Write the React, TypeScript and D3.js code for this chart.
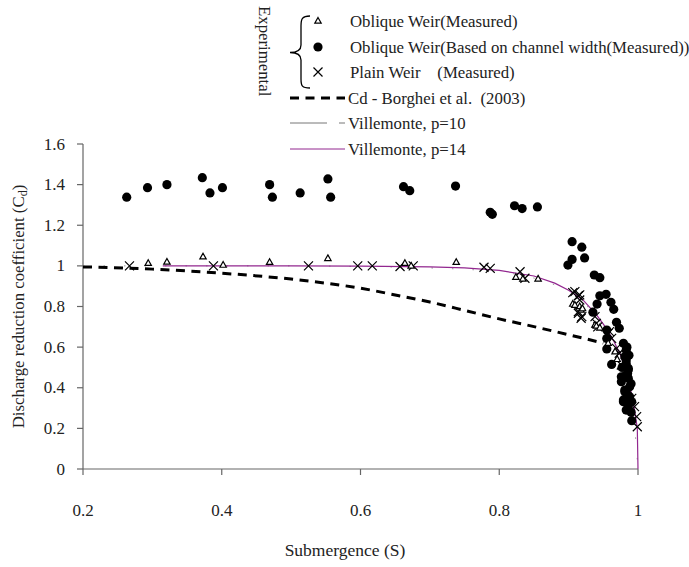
import React from "react";
import * as d3 from "d3";

// Oblique weir, measured (triangles)
const obliqueMeasured: [number, number][] = [
  [0.294, 1.013], [0.321, 1.019], [0.373, 1.045], [0.402, 1.004], [0.469, 1.018],
  [0.553, 1.037], [0.664, 1.013], [0.673, 1.0], [0.738, 1.018], [0.824, 0.944],
  [0.834, 0.936], [0.856, 0.936], [0.906, 0.812], [0.909, 0.807], [0.916, 0.8],
  [0.918, 0.783], [0.92, 0.79], [0.938, 0.709], [0.94, 0.704], [0.945, 0.695],
  [0.957, 0.619], [0.967, 0.578], [0.97, 0.54],
];

// Oblique weir based on channel width (filled circles)
const obliqueChannel: [number, number][] = [
  [0.263, 1.338], [0.293, 1.385], [0.321, 1.4], [0.372, 1.434], [0.383, 1.359],
  [0.401, 1.385], [0.469, 1.4], [0.473, 1.338], [0.513, 1.359], [0.553, 1.428],
  [0.557, 1.338], [0.662, 1.39], [0.671, 1.37], [0.737, 1.393], [0.787, 1.264],
  [0.79, 1.254], [0.822, 1.296], [0.833, 1.282], [0.855, 1.29],
  [0.905, 1.119], [0.919, 1.092], [0.905, 1.032], [0.899, 1.004], [0.923, 1.039],
  [0.937, 0.955], [0.945, 0.942], [0.945, 0.853], [0.954, 0.86], [0.941, 0.812],
  [0.961, 0.821], [0.965, 0.786], [0.935, 0.772], [0.969, 0.722], [0.973, 0.693],
  [0.955, 0.684], [0.955, 0.643], [0.979, 0.619], [0.955, 0.591], [0.983, 0.586],
  [0.981, 0.553], [0.962, 0.515], [0.983, 0.52], [0.986, 0.487], [0.976, 0.43],
  [0.986, 0.447], [0.988, 0.405], [0.981, 0.38], [0.988, 0.356], [0.979, 0.331],
  [0.986, 0.307], [0.991, 0.331], [0.983, 0.29], [0.991, 0.238], [0.983, 0.537],
  [0.986, 0.496], [0.976, 0.454], [0.981, 0.389], [0.979, 0.34], [0.984, 0.6],
  [0.987, 0.56], [0.985, 0.47], [0.99, 0.42], [0.984, 0.37], [0.99, 0.28],
  [0.977, 0.5], [0.982, 0.46],
];

// Plain weir, measured (crosses)
const plainMeasured: [number, number][] = [
  [0.267, 1.0], [0.388, 1.0], [0.525, 1.0], [0.596, 1.0], [0.617, 1.0],
  [0.657, 0.997], [0.676, 1.0], [0.778, 0.993], [0.787, 0.988], [0.83, 0.971],
  [0.837, 0.939], [0.906, 0.868], [0.909, 0.873], [0.914, 0.853], [0.916, 0.857],
  [0.916, 0.832], [0.914, 0.775], [0.914, 0.767], [0.919, 0.75], [0.918, 0.742],
  [0.938, 0.75], [0.94, 0.717], [0.942, 0.7], [0.957, 0.668], [0.959, 0.676],
  [0.962, 0.643], [0.969, 0.594], [0.973, 0.57], [0.976, 0.512], [0.991, 0.348],
  [0.995, 0.307], [0.998, 0.258], [0.999, 0.208],
];

// Cd - Borghei et al. (2003)
const borghei: [number, number][] = [
  [0.2, 0.995], [0.3, 0.984], [0.4, 0.964], [0.5, 0.935], [0.55, 0.915],
  [0.6, 0.89], [0.65, 0.857], [0.7, 0.822], [0.75, 0.781], [0.8, 0.739],
  [0.85, 0.701], [0.9, 0.661], [0.95, 0.62],
];

// Villemonte, p=10
const villemonte10: [number, number][] = [
  [0.2, 1.0], [0.5, 1.0], [0.6, 0.997], [0.7, 0.99], [0.8, 0.97], [0.85, 0.94],
  [0.9, 0.87], [0.94, 0.75], [0.97, 0.58], [0.99, 0.37], [1.0, 0],
];

// Villemonte, p=14
const villemonte14: [number, number][] = [
  [0.315, 1.0], [0.5, 1.0], [0.6, 0.999], [0.7, 0.995], [0.75, 0.99], [0.8, 0.978],
  [0.85, 0.95], [0.88, 0.915], [0.9, 0.88], [0.92, 0.835], [0.94, 0.76], [0.955, 0.69],
  [0.965, 0.63], [0.975, 0.56], [0.985, 0.46], [0.99, 0.38], [0.995, 0.29],
  [0.999, 0.2], [1.0, 0],
];

const xTicks = [0.2, 0.4, 0.6, 0.8, 1];
const yTicks = [0, 0.2, 0.4, 0.6, 0.8, 1, 1.2, 1.4, 1.6];

const width = 689;
const height = 567;
const margin = { top: 144, right: 51, bottom: 98, left: 83 };
const font = "Liberation Serif";
const fs = 16.8;
const ink = "#222";
const axisColor = "#666";
const purple = "#92278f";

const Triangle = ({ x, y }: { x: number; y: number }) => (
  <path
    d={`M${x},${y - 3.5}L${x + 3.2},${y + 2.2}L${x - 3.2},${y + 2.2}Z`}
    fill="white"
    stroke="black"
    strokeWidth={1.2}
  />
);

const Cross = ({ x, y }: { x: number; y: number }) => (
  <path
    d={`M${x - 4.5},${y - 4.5}L${x + 4.5},${y + 4.5}M${x - 4.5},${y + 4.5}L${x + 4.5},${y - 4.5}`}
    stroke="black"
    strokeWidth={1.2}
    fill="none"
  />
);

export default function App() {
  const x = d3.scaleLinear().domain([0.2, 1]).range([margin.left, width - margin.right]);
  const y = d3.scaleLinear().domain([0, 1.6]).range([height - margin.bottom, margin.top]);

  const line = d3
    .line<[number, number]>()
    .x((d) => x(d[0]))
    .y((d) => y(d[1]))
    .curve(d3.curveMonotoneX);
  const lineLinear = d3
    .line<[number, number]>()
    .x((d) => x(d[0]))
    .y((d) => y(d[1]));

  const x0 = margin.left;
  const y0 = height - margin.bottom;

  return (
    <svg
      width={width}
      height={height}
      style={{ position: "absolute", left: 0, top: 0, background: "white", fontFamily: font }}
    >
      {/* axes */}
      <line x1={x0} y1={margin.top} x2={x0} y2={y0} stroke={axisColor} strokeWidth={1.2} />
      <line x1={x0} y1={y0} x2={width - margin.right} y2={y0} stroke={axisColor} strokeWidth={1.2} />
      {yTicks.map((t) => (
        <g key={`y-${t}`}>
          <line x1={x0 - 6} y1={y(t)} x2={x0} y2={y(t)} stroke={axisColor} strokeWidth={1.2} />
          <text x={x0 - 18} y={y(t) + 5.5} textAnchor="end" fontSize={17} fill={ink}>
            {t}
          </text>
        </g>
      ))}
      {xTicks.map((t) => (
        <g key={`x-${t}`}>
          <line x1={x(t)} y1={y0} x2={x(t)} y2={y0 + 6} stroke={axisColor} strokeWidth={1.2} />
          <text x={x(t)} y={516} textAnchor="middle" fontSize={17} fill={ink}>
            {t}
          </text>
        </g>
      ))}
      <text x={345} y={556} textAnchor="middle" fontSize={17.5} fill={ink}>
        Submergence (S)
      </text>
      <text
        transform={`translate(24,${(margin.top + y0) / 2}) rotate(-90)`}
        textAnchor="middle"
        fontSize={fs}
        fill={ink}
      >
        Discharge reduction coefficient (C
        <tspan fontSize={12} dy={3}>d</tspan>
        <tspan dy={-3}>)</tspan>
      </text>

      {/* curves */}
      <path d={line(villemonte10) ?? ""} fill="none" stroke="#999" strokeWidth={1} strokeDasharray="1.5,19" />
      <path d={line(borghei) ?? ""} fill="none" stroke="black" strokeWidth={3} strokeDasharray="9,6.5" />
      <path d={lineLinear(villemonte14) ?? ""} fill="none" stroke={purple} strokeWidth={1.2} />

      {/* markers */}
      {obliqueChannel.map((d, i) => (
        <circle key={`c-${i}`} cx={x(d[0])} cy={y(d[1])} r={4.6} fill="black" />
      ))}
      {plainMeasured.map((d, i) => (
        <Cross key={`x-${i}`} x={x(d[0])} y={y(d[1])} />
      ))}
      {obliqueMeasured.map((d, i) => (
        <Triangle key={`t-${i}`} x={x(d[0])} y={y(d[1])} />
      ))}

      {/* legend */}
      <text transform="translate(259,6) rotate(90)" fontSize={fs} fill={ink}>
        Experimental
      </text>
      <path
        d="M310,16 C302,16 301,19 301,26 L301,45 C301,50 297,52.5 290,52.5 C297,52.5 301,55 301,60 L301,79 C301,86 302,88 310,88"
        fill="none"
        stroke="black"
        strokeWidth={1.3}
      />
      <Triangle x={318} y={21} />
      <circle cx={318} cy={47} r={4.6} fill="black" />
      <Cross x={318} y={72} />
      <text x={350} y={26.5} fontSize={fs} fill={ink}>Oblique Weir(Measured)</text>
      <text x={350} y={52.5} fontSize={fs} fill={ink}>Oblique Weir(Based on channel width(Measured))</text>
      <text x={350} y={77.5} fontSize={fs} fill={ink} style={{ whiteSpace: "pre" }}>
        {"Plain Weir    (Measured)"}
      </text>
      <line x1={290} y1={98} x2={345} y2={98} stroke="black" strokeWidth={3} strokeDasharray="9,6.5" />
      <text x={348} y={103.5} fontSize={fs} fill={ink} style={{ whiteSpace: "pre" }}>
        {"Cd - Borghei et al.  (2003)"}
      </text>
      <line x1={290} y1={123} x2={327} y2={123} stroke="#777" strokeWidth={1} />
      <line x1={339} y1={123} x2={345} y2={123} stroke="#777" strokeWidth={1} />
      <text x={348} y={128.5} fontSize={fs} fill={ink}>Villemonte, p=10</text>
      <line x1={290} y1={149} x2={345} y2={149} stroke={purple} strokeWidth={1} />
      <text x={348} y={154.5} fontSize={fs} fill={ink}>Villemonte, p=14</text>
    </svg>
  );
}
